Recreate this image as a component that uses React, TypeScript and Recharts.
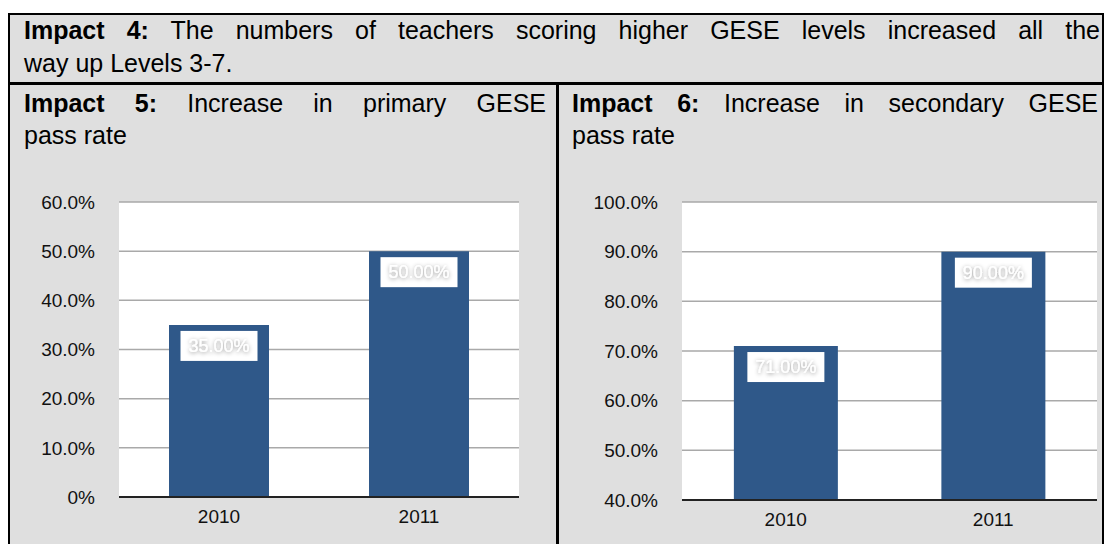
import { BarChart, Bar, XAxis, YAxis, CartesianGrid, LabelList } from 'recharts';

const years = ['2010', '2011'];
const primaryRates = [35, 50];
const secondaryRates = [71, 90];
const primaryTicks = [0, 10, 20, 30, 40, 50, 60];
const secondaryTicks = [40, 50, 60, 70, 80, 90, 100];

const primaryData = years.map((year, i) => ({ year, rate: primaryRates[i] }));
const secondaryData = years.map((year, i) => ({ year, rate: secondaryRates[i] }));

const FONT = '"Liberation Sans", Arial, Helvetica, sans-serif';
const CELL_BG = '#dfdfdf';
const BAR_COLOR = '#2f5889';

const tickPct = (v: number) => (v === 0 ? '0%' : `${v.toFixed(1)}%`);

// white box inside the top of the bar, white text with a soft grey halo
// eslint-disable-next-line @typescript-eslint/no-explicit-any
const BarLabel = (props: any) => {
    const { x, y, width, value } = props;
    const cx = x + width / 2;
    const bw = 77;
    const bh = 30;
    return (
        <g>
            <defs>
                <filter id="lblGlow" x="-20%" y="-60%" width="140%" height="220%">
                    <feDropShadow dx="0" dy="1" stdDeviation="2" floodColor="#000" floodOpacity="0.45" />
                </filter>
            </defs>
            <rect x={cx - bw / 2} y={y + 6} width={bw} height={bh} fill="#fff" />
            <text
                x={cx}
                y={y + 6 + bh / 2}
                textAnchor="middle"
                dominantBaseline="central"
                fill="#fff"
                fontSize={18}
                fontFamily={FONT}
                filter="url(#lblGlow)"
            >
                {`${Number(value).toFixed(2)}%`}
            </text>
        </g>
    );
};

interface PassChartProps {
    data: { year: string; rate: number }[];
    ticks: number[];
    width: number;
    height: number;
    margin: { top: number; right: number; left: number; bottom: number };
}

function PassChart({ data, ticks, width, height, margin }: PassChartProps) {
    return (
        <BarChart width={width} height={height} data={data} margin={margin} barCategoryGap="25%">
            <CartesianGrid vertical={false} stroke="#a9a9a9" strokeWidth={1.5} fill="#fff" />
            <XAxis
                dataKey="year"
                axisLine={{ stroke: '#222', strokeWidth: 2 }}
                tickLine={false}
                tickSize={0}
                tickMargin={13}
                height={30}
                tick={{ fontSize: 19, fill: '#111', fontFamily: FONT }}
            />
            <YAxis
                domain={[ticks[0], ticks[ticks.length - 1]]}
                ticks={ticks}
                interval={0}
                tickFormatter={tickPct}
                axisLine={false}
                tickLine={false}
                tickSize={0}
                tickMargin={24}
                width={80}
                tick={{ fontSize: 19, fill: '#111', fontFamily: FONT }}
            />
            <Bar dataKey="rate" fill={BAR_COLOR} isAnimationActive={false}>
                <LabelList dataKey="rate" content={BarLabel} />
            </Bar>
        </BarChart>
    );
}

const line = { position: 'absolute' as const, fontFamily: FONT, fontSize: 25, lineHeight: '30px', color: '#000', whiteSpace: 'nowrap' as const };
const justified = { textAlign: 'justify' as const, textAlignLast: 'justify' as const, whiteSpace: 'normal' as const };

export default function App() {
    return (
        <div style={{ position: 'relative', width: 1111, height: 544, background: '#fff', overflow: 'hidden' }}>
            <style>{'body{margin:0}'}</style>

            {/* outer table */}
            <div
                style={{
                    position: 'absolute',
                    left: 8,
                    top: 13,
                    width: 1096,
                    height: 560,
                    background: CELL_BG,
                    border: '2px solid #000',
                    boxSizing: 'border-box',
                }}
            />

            {/* row 1 */}
            <div style={{ ...line, ...justified, left: 24, top: 15, width: 1076 }}>
                <b>Impact 4:</b> The numbers of teachers scoring higher GESE levels increased all the
            </div>
            <div style={{ ...line, left: 24, top: 48 }}>way up Levels 3-7.</div>
            <div style={{ position: 'absolute', left: 8, top: 82, width: 1096, height: 3, background: '#000' }} />

            {/* cell divider */}
            <div style={{ position: 'absolute', left: 556, top: 85, width: 3, height: 470, background: '#000' }} />

            {/* row 2 headings */}
            <div style={{ ...line, ...justified, left: 24, top: 88, width: 522 }}>
                <b>Impact 5:</b> Increase in primary GESE
            </div>
            <div style={{ ...line, left: 24, top: 120 }}>pass rate</div>
            <div style={{ ...line, ...justified, left: 572, top: 88, width: 526 }}>
                <b>Impact 6:</b> Increase in secondary GESE
            </div>
            <div style={{ ...line, left: 572, top: 120 }}>pass rate</div>

            <div style={{ position: 'absolute', left: 20, top: 180 }}>
                <PassChart
                    data={primaryData}
                    ticks={primaryTicks}
                    width={520}
                    height={364}
                    margin={{ top: 22, right: 21, left: 19, bottom: 17 }}
                />
            </div>
            <div style={{ position: 'absolute', left: 570, top: 180 }}>
                <PassChart
                    data={secondaryData}
                    ticks={secondaryTicks}
                    width={541}
                    height={364}
                    margin={{ top: 22, right: 14, left: 32, bottom: 14 }}
                />
            </div>
        </div>
    );
}
